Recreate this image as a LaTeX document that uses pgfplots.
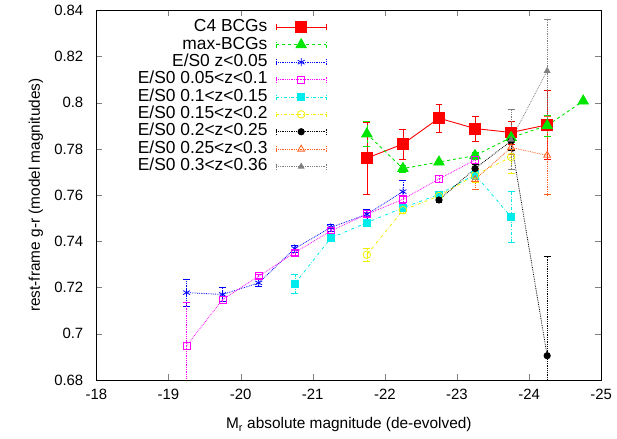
\documentclass[border=0pt]{standalone}
\usepackage{pgfplots}
\pgfplotsset{compat=1.18}
\usetikzlibrary{calc}
\usepackage{fontspec}
\setmainfont{Liberation Sans}
\definecolor{cgreen}{RGB}{0,230,0}
\definecolor{corange}{RGB}{255,96,32}
\definecolor{cgrey}{RGB}{128,128,128}
\definecolor{cyel}{RGB}{240,240,0}
\definecolor{ccyan}{RGB}{0,235,235}
\definecolor{cmag}{RGB}{255,0,255}
\definecolor{cblue}{RGB}{0,0,255}
\pgfplotsset{
  capleg/.style={legend image code/.code={
    \path[draw=none,fill=none] (0bp,-4bp) rectangle (50bp,4bp);
    \draw[mark=none,##1] (0bp,0bp) -- (50bp,0bp);
    \draw[mark=none,##1] (0bp,-3bp) -- (0bp,3bp) (50bp,-3bp) -- (50bp,3bp);
    \draw[only marks,##1] plot coordinates {(25bp,0bp)};
  }},
  eb/.style={error bars/.cd, y dir=both, y explicit, error mark=-, error mark options={rotate=90, mark size=3.5bp}},
}
\begin{document}
\fontsize{15bp}{18bp}\selectfont
\begin{tikzpicture}
\begin{axis}[
  scale only axis, width=508bp, height=372bp,
  x dir=reverse, xmin=-25, xmax=-18, ymin=0.68, ymax=0.84,
  xtick={-25,-24,...,-18}, ytick={0.68,0.70,...,0.84},
  yticklabels={0.68,0.7,0.72,0.74,0.76,0.78,0.8,0.82,0.84},
  /pgf/number format/assume math mode=true,
  tick align=inside, major tick length=6bp,
  tick label style={font=\fontsize{15bp}{18bp}\selectfont},
  yticklabel style={xshift=-8bp},
  xticklabel style={yshift=-4bp},
  label style={font=\fontsize{15.5bp}{18bp}\selectfont},
  xlabel={M\textsubscript{r} absolute magnitude (de-evolved)},
  ylabel={rest-frame g-r (model magnitudes)},
  ylabel style={yshift=1bp},
  xlabel style={yshift=-8bp},
  axis line style={line width=0.9pt},
  legend plot pos=right,
  legend cell align=right,
  legend style={draw=none, fill=none, at={(rel axis cs:0.462,0.983)}, anchor=north east,
    font=\fontsize{17.5bp}{18bp}\selectfont, row sep=0bp, column sep=7bp,
    nodes={inner sep=1.5bp, text height=11.5bp, text depth=3bp}},
  capleg,
]
\addplot[red, solid, line width=0.9pt, mark=square*, mark size=5.5bp, mark options={solid}, eb]
 coordinates {(-21.75,0.776) +- (0,0.0157) (-22.25,0.7821) +- (0,0.0065) (-22.75,0.7933) +- (0,0.006)
 (-23.25,0.7888) +- (0,0.0055) (-23.75,0.7871) +- (0,0.005) (-24.25,0.7904) +- (0,0.015)};
\addlegendentry{C4 BCGs}
\addplot[cgreen, dashed, line width=0.9pt, mark=triangle*, mark size=6bp, mark options={solid}, eb]
 coordinates {(-21.75,0.7865) +- (0,0.0055) (-22.25,0.7715) +- (0,0.0015) (-22.75,0.7743) +- (0,0.001)
 (-23.25,0.7771) +- (0,0.0015) (-23.75,0.7849) +- (0,0.002) (-24.25,0.7901) +- (0,0.0045) (-24.75,0.8007) +- (0,0)};
\addlegendentry{max-BCGs}
\addplot[cblue, densely dotted, line width=0.8pt, mark=asterisk, mark size=4bp, mark options={solid}, eb]
 coordinates {(-19.25,0.7178) +- (0,0.0058) (-19.75,0.717) +- (0,0.003) (-20.25,0.722) +- (0,0.0015)
 (-20.75,0.7369) +- (0,0.0015) (-21.25,0.746) +- (0,0.0015) (-21.75,0.7517) +- (0,0.002) (-22.25,0.7615) +- (0,0.005)};
\addlegendentry{E/S0 z<0.05}
\addplot[cmag, densely dotted, line width=0.8pt, mark=square, mark size=3.5bp, mark options={solid}, eb]
 coordinates {(-19.25,0.6948) +- (0,0.019) (-19.75,0.7148) +- (0,0.0015) (-20.25,0.7249) +- (0,0.001)
 (-20.75,0.7351) +- (0,0.001) (-21.25,0.7445) +- (0,0.001) (-21.75,0.7517) +- (0,0.001) (-22.25,0.7582) +- (0,0.0015)
 (-22.75,0.767) +- (0,0.0015) (-23.25,0.7752) +- (0,0.002)};
\addlegendentry{E/S0 0.05<z<0.1}
\addplot[ccyan, dash dot, line width=0.8pt, mark=square*, mark size=3.5bp, mark options={solid}, eb]
 coordinates {(-20.75,0.7216) +- (0,0.004) (-21.25,0.7414) +- (0,0.001) (-21.75,0.7481) +- (0,0.001)
 (-22.25,0.7545) +- (0,0.001) (-22.75,0.7603) +- (0,0.0015) (-23.25,0.7689) +- (0,0.002) (-23.75,0.7505) +- (0,0.011)};
\addlegendentry{E/S0 0.1<z<0.15}
\addplot[cyel, dash dot, line width=0.8pt, mark=o, mark size=3.8bp, mark options={solid}, eb]
 coordinates {(-21.75,0.7342) +- (0,0.003) (-22.25,0.7535) +- (0,0.0015) (-22.75,0.7596) +- (0,0.002)
 (-23.25,0.7686) +- (0,0.003) (-23.75,0.7765) +- (0,0.007)};
\addlegendentry{E/S0 0.15<z<0.2}
\addplot[black, densely dotted, line width=0.8pt, mark=*, mark size=3.2bp, mark options={solid}, eb]
 coordinates {(-22.75,0.7579) +- (0,0.001) (-23.25,0.7715) +- (0,0.002) (-23.75,0.7834) +- (0,0.004)
 (-24.25,0.6905) +- (0,0.043)};
\addlegendentry{E/S0 0.2<z<0.25}
\addplot[corange, densely dotted, line width=0.8pt, mark=triangle, mark size=4bp, mark options={solid}, eb]
 coordinates {(-23.25,0.7667) +- (0,0.0043) (-23.75,0.7806) +- (0,0.003) (-24.25,0.7772) +- (0,0.017)};
\addlegendentry{E/S0 0.25<z<0.3}
\addplot[cgrey, densely dotted, line width=0.8pt, mark=triangle*, mark size=3.2bp, mark options={solid}, eb]
 coordinates {(-23.75,0.784) +- (0,0.013) (-24.25,0.8138) +- (0,0.0225)};
\addlegendentry{E/S0 0.3<z<0.36}
\end{axis}
\path ($(current axis.south west)+(-97bp,-59bp)$) rectangle ($(current axis.north east)+(12bp,8bp)$);
\end{tikzpicture}
\end{document}
